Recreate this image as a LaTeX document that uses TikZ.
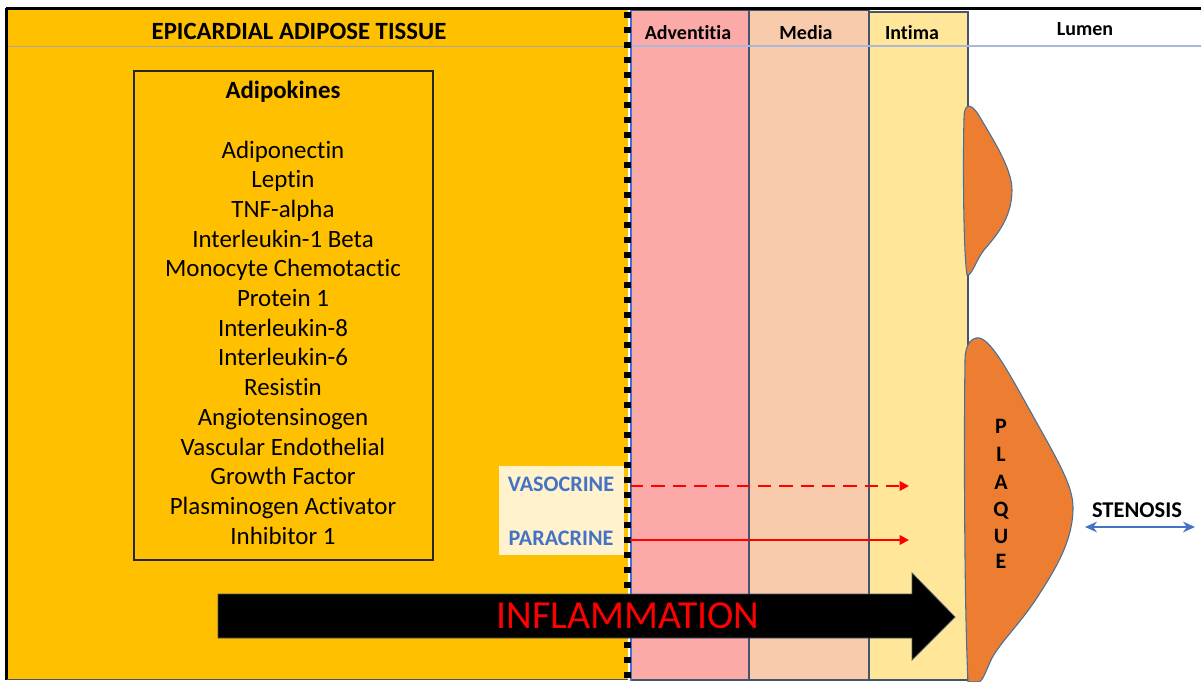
\documentclass[tikz,border=0pt]{standalone}
\usepackage{fontspec}
\setmainfont{Carlito}[Ligatures=NoCommon]
\usetikzlibrary{arrows.meta}
\definecolor{eat}{HTML}{FFC000}
\definecolor{advc}{HTML}{FBAAA8}
\definecolor{medc}{HTML}{F8CBAD}
\definecolor{intc}{HTML}{FFE699}
\definecolor{cream}{HTML}{FFF2CC}
\definecolor{plq}{HTML}{ED7D31}
\definecolor{plqline}{HTML}{41719C}
\definecolor{bluet}{HTML}{4472C4}
\definecolor{layline}{HTML}{44546A}
\definecolor{sepline}{HTML}{A9B8DA}
\tikzset{
  hdr/.style={font=\fontsize{15}{17}\selectfont\bfseries, inner sep=0pt, anchor=base},
  bighdr/.style={font=\fontsize{18.6}{21}\selectfont\bfseries, inner sep=0pt, anchor=base},
  listtxt/.style={font=\fontsize{18.7}{21}\selectfont, inner sep=0pt, anchor=base},
  modetxt/.style={font=\fontsize{16.6}{18}\selectfont\bfseries, text=bluet, inner sep=0pt, anchor=base},
  plqtxt/.style={font=\fontsize{16.5}{18}\selectfont\bfseries, inner sep=0pt, anchor=base},
  layer/.style={draw=layline, line width=0.9pt},
  redarrow/.style={draw=red, line width=2pt, -{Triangle[length=7pt,width=7pt]}},
  plaque/.style={fill=plq, draw=plqline, line width=0.8pt}
}
\begin{document}
\begin{tikzpicture}[x=0.75pt,y=-0.75pt]
\useasboundingbox (0,0) rectangle (1201,681);
% background regions
\fill[eat] (7,9) rectangle (628,680);
\draw[layer, fill=advc] (631,10) rectangle (749,680);
\draw[layer, fill=medc] (749,10) rectangle (869,680);
\draw[layer, fill=intc] (869,12) rectangle (968,680);
% separator lines under headers
\draw[gray!70, line width=0.7pt] (8,46) -- (625,46);
\draw[sepline, line width=0.9pt] (631,46) -- (1201,46);
% frame
\draw[black, line width=1.6pt] (6,8.5) -- (1201,8.5);
\draw[black, line width=1.6pt] (6.5,8) -- (6.5,680);
\draw[layline, line width=0.9pt] (7,679.5) -- (628,679.5);
% dotted border
\draw[bluet, line width=1.8pt] (631,10) -- (631,681);
\draw[black, line width=4.8pt, dash pattern=on 4.8pt off 6.45pt] (627.5,12) -- (627.5,681);
% headers
\node[bighdr] (eath) at (299,40) {EPICARDIAL ADIPOSE TISSUE};
\node[hdr] (advh) at (688,39.5) {Adventitia};
\node[hdr] (medh) at (806,39.5) {Media};
\node[hdr] (inth) at (912,39.5) {Intima};
\node[hdr] (lumh) at (1085,36) {Lumen};
% adipokine box
\draw[black!85, line width=1.1pt] (134,71) rectangle (433,560);
\node[bighdr] (adip) at (283,98.5) {Adipokines};
\foreach \t [count=\i] in {Adiponectin, Leptin, TNF-alpha, Interleukin-1 Beta, Monocyte Chemotactic, Protein 1, Interleukin-8, Interleukin-6, Resistin, Angiotensinogen, Vascular Endothelial, Growth Factor, Plasminogen Activator, Inhibitor 1}
  \node[listtxt] (l\i) at (283,{158+29.7*(\i-1)}) {\t};
% vasocrine / paracrine
\fill[cream] (499,466) rectangle (624,555);
\node[modetxt] (vaso) at (561,491) {VASOCRINE};
\node[modetxt] (para) at (561,545) {PARACRINE};
\coordinate (vs) at (630,486);
\coordinate (ve) at (909,486);
\coordinate (ps) at (630,540);
\coordinate (pe) at (909,540);
\draw[redarrow, dash pattern=on 10pt off 6pt] (vs) -- (ve);
\draw[redarrow] (ps) -- (pe);
% inflammation arrow
\draw[fill=black, draw=layline, line width=0.6pt] (218,594) -- (912,594) -- (912,573) -- (955,617) -- (912,660) -- (912,638) -- (218,638) -- cycle;
\node[font=\fontsize{29.8}{32}\selectfont, text=red, inner sep=0pt, anchor=base] (infl) at (628,628.5) {INFLAMMATION};
% plaques
\draw[plaque] (964,118) .. controls (964,104) and (970,102) .. (978,114)
  .. controls (992,138) and (1012,168) .. (1012,190)
  .. controls (1012,218) and (996,236) .. (984,250)
  .. controls (976,260) and (972,276) .. (967,275)
  .. controls (963,250) and (963,150) .. cycle;
\draw[plaque] (965,360) .. controls (965,344) and (972,337) .. (979,338)
  .. controls (992,340) and (1010,375) .. (1038,425)
  .. controls (1062,468) and (1073,488) .. (1073,508)
  .. controls (1073,540) and (1056,568) .. (1040,593)
  .. controls (1022,622) and (1002,640) .. (992,658)
  .. controls (986,670) and (983,682) .. (978,682)
  -- (968,682) .. controls (964,600) and (964,420) .. cycle;
\foreach \c/\y [count=\i] in {P/433, L/461, A/489, Q/516, U/543, E/568}
  \node[plqtxt] (pq\i) at (1001,\y) {\c};
% stenosis
\node[font=\fontsize{16.9}{18}\selectfont\bfseries, inner sep=0pt, anchor=base] (sten) at (1137,517) {STENOSIS};
\coordinate (sl) at (1085,527);
\coordinate (sr) at (1195,527);
\draw[bluet, line width=1.6pt, {Stealth[length=9pt,width=8pt]}-{Stealth[length=9pt,width=8pt]}] (sl) -- (sr);
\end{tikzpicture}
\end{document}
